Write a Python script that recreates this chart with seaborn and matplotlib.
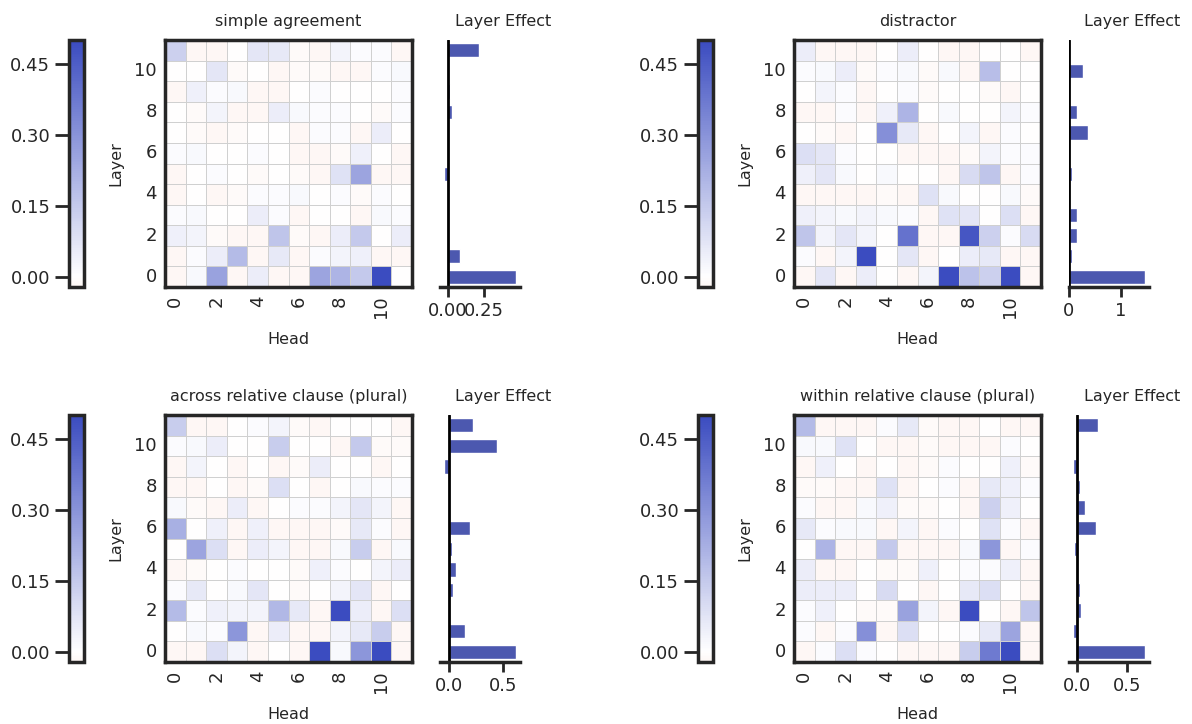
import numpy as np
import pandas as pd
import matplotlib
matplotlib.use('Agg')
import matplotlib.pyplot as plt
from matplotlib.colors import LinearSegmentedColormap
import seaborn as sns

# --- data: head effects, rows listed from layer 11 (top) down to layer 0 ---
titles = ['simple agreement', 'distractor',
          'across relative clause (plural)', 'within relative clause (plural)']
layers = list(range(12))
heads = list(range(12))

simple_agreement = [
    [0.13, -0.02, -0.02, 0, 0.07, 0.06, -0.01, -0.02, 0.03, 0.01, 0.01, -0.02],
    [0, 0, 0.07, -0.01, 0, -0.02, -0.01, -0.01, -0.02, -0.02, 0.01, 0.02],
    [-0.02, 0.04, 0.01, 0.02, -0.02, -0.03, 0, 0.01, 0, 0, 0, 0.01],
    [0, -0.01, 0.03, -0.02, -0.02, 0.05, 0.02, 0.01, 0.01, 0, -0.01, 0.01],
    [0, -0.01, -0.02, -0.01, 0, 0, -0.02, 0.01, 0.01, -0.02, 0.05, 0],
    [0.01, 0.02, 0, 0, 0.01, 0, -0.02, -0.02, -0.01, 0.04, 0, -0.02],
    [-0.02, 0, 0.01, 0, -0.01, 0, -0.01, -0.02, 0.08, 0.25, -0.02, -0.02],
    [-0.02, 0, -0.02, -0.01, 0.01, 0.01, 0.02, 0, 0.01, -0.01, 0.01, 0],
    [0.01, 0.02, 0, 0, 0.05, 0.01, -0.02, 0, 0, -0.02, 0.02, 0.01],
    [0.04, 0.03, -0.01, -0.02, -0.02, 0.16, -0.01, -0.02, 0.05, 0.15, 0, 0.05],
    [-0.02, 0.01, 0.05, 0.19, -0.02, 0.06, -0.02, 0.01, 0.03, 0.04, -0.02, -0.02],
    [-0.02, 0.02, 0.26, -0.02, 0.05, -0.02, -0.02, 0.25, 0.21, 0.15, 0.5, 0],
]
distractor = [
    [0.05, -0.02, -0.02, -0.02, 0, 0.05, 0, -0.02, -0.02, 0, 0, -0.02],
    [0.01, 0.02, 0.05, -0.01, 0.01, 0.02, -0.01, 0.02, -0.02, 0.18, 0, 0],
    [0, 0.03, 0.01, -0.02, 0, 0.01, -0.01, 0, 0, -0.01, -0.02, 0],
    [-0.02, -0.02, 0.01, -0.02, 0.04, 0.21, 0, 0.02, 0, 0, 0.03, 0.01],
    [0, -0.01, -0.02, 0, 0.31, 0.06, -0.02, 0, 0.03, -0.02, 0.01, 0],
    [0.09, 0.07, 0.01, 0, 0, -0.02, -0.02, -0.02, -0.01, 0.03, 0.01, 0.01],
    [0.04, 0.07, 0.02, 0, 0.02, 0, 0, -0.02, 0.1, 0.16, -0.02, 0.01],
    [-0.02, -0.02, -0.02, -0.02, -0.01, -0.02, 0.08, 0.02, 0, 0, 0.02, -0.01],
    [0.04, 0.03, 0.02, 0.03, 0.02, 0.01, -0.02, 0.08, 0.07, 0, 0.09, -0.02],
    [0.16, 0.03, 0.07, 0.03, 0, 0.39, -0.02, -0.02, 0.47, 0.13, 0.01, 0.1],
    [0.01, -0.02, 0.03, 0.5, 0, 0.07, -0.02, 0, 0.05, 0.06, -0.02, -0.02],
    [-0.02, 0.07, -0.02, 0.05, 0, -0.02, 0.03, 0.5, 0.17, 0.13, 0.5, -0.02],
]
across_rc = [
    [0.14, -0.02, -0.02, 0, 0.01, 0.03, -0.01, -0.02, 0, 0, 0, -0.02],
    [0.01, 0.02, 0.05, 0, 0, 0.14, 0, 0, -0.02, 0.15, -0.01, -0.01],
    [-0.02, 0.03, 0, -0.02, 0, -0.02, -0.01, 0.05, 0, 0, -0.02, 0],
    [-0.02, -0.02, 0, -0.02, -0.01, 0.09, 0, -0.02, 0, 0.02, 0.01, 0.01],
    [0.02, -0.01, -0.02, 0.05, -0.02, 0, 0.01, 0.01, 0.03, 0.07, 0.03, -0.02],
    [0.22, 0, 0.04, -0.02, 0.04, -0.02, -0.02, -0.02, -0.01, 0.06, 0.01, -0.02],
    [0, 0.25, 0.09, -0.02, 0.05, 0.03, -0.02, -0.02, 0.02, 0.14, -0.02, 0.02],
    [-0.02, -0.01, 0, 0.01, 0, 0, -0.01, 0.04, 0.01, 0, 0.03, 0.05],
    [0.01, 0.06, 0, 0.02, 0.07, 0, -0.01, 0, 0.03, 0.07, -0.02, 0],
    [0.19, 0.01, 0.04, 0.03, 0.03, 0.2, 0.06, -0.02, 0.5, 0.05, -0.02, 0.09],
    [0, 0.02, 0.01, 0.29, -0.02, 0.05, -0.02, -0.02, 0.03, 0.06, 0.14, -0.02],
    [-0.02, -0.02, 0.09, 0.03, -0.02, 0, -0.02, 0.5, 0.02, 0.29, 0.5, -0.02],
]
within_rc = [
    [0.19, -0.02, -0.02, -0.02, 0.01, 0.06, -0.01, -0.02, -0.02, 0, -0.02, -0.02],
    [0.02, 0.02, 0.08, 0, -0.02, -0.02, -0.01, -0.02, -0.02, -0.02, 0.01, 0],
    [-0.02, 0.04, 0, -0.02, 0, -0.02, -0.01, 0.01, 0, 0, 0.04, -0.01],
    [-0.01, -0.01, -0.02, -0.02, 0.08, -0.02, 0, 0.01, -0.02, 0.06, 0.04, 0.01],
    [0.01, -0.02, -0.02, 0.02, 0.04, -0.01, -0.01, 0, -0.02, 0.13, 0.04, 0],
    [0.06, 0.01, 0.02, 0.02, -0.02, 0.03, -0.02, 0.01, 0, 0.08, 0.01, -0.02],
    [0, 0.21, -0.02, -0.02, 0.15, -0.02, -0.02, -0.02, 0.02, 0.29, -0.02, 0.01],
    [0.05, -0.02, -0.02, 0, -0.01, -0.01, 0.04, 0, 0.01, 0.01, 0.04, -0.02],
    [0.05, 0.05, 0.05, 0, 0.1, 0, -0.02, 0, 0.06, 0.09, 0, -0.02],
    [0.01, 0.04, 0, -0.01, -0.01, 0.26, 0.03, -0.02, 0.5, 0, -0.02, 0.16],
    [0.01, -0.02, 0.01, 0.31, -0.02, 0.09, 0, 0, 0.01, 0.06, 0.25, -0.02],
    [-0.02, 0.01, 0.09, 0.01, 0, -0.02, -0.02, -0.02, 0.14, 0.37, 0.5, -0.02],
]

# layer effects, listed layer 0 .. layer 11
effect_simple = [0.48, 0.086, 0, 0, 0, -0.03, 0, 0, 0.03, 0.017, 0, 0.22]
effect_distractor = [1.46, 0.05, 0.16, 0.15, 0, 0.05, 0, 0.37, 0.15, 0, 0.26, 0]
effect_across = [0.62, 0.15, 0, 0.04, 0.065, 0.03, 0.19, 0, 0, -0.05, 0.44, 0.22]
effect_within = [0.68, -0.04, 0.042, 0.025, 0, -0.035, 0.19, 0.077, 0.025, -0.045, 0, 0.21]

head_data = [simple_agreement, distractor, across_rc, within_rc]
layer_data = [effect_simple, effect_distractor, effect_across, effect_within]
bar_ticks = [[0, 0.25], [0, 1], [0, 0.5], [0, 0.5]]

# --- style ---
sns.set_theme(style='ticks')
plt.rcParams['font.family'] = ['DejaVu Sans']
dark = '#262626'
cmap = LinearSegmentedColormap.from_list('rwb', ['#e0501e', '#ffffff', '#3b4cc0'])

W, H = 1192, 724
fig = plt.figure(figsize=(W / 100, H / 100), dpi=100)

def px(x, y_top, w, h):
    return [x / W, (H - y_top - h) / H, w / W, h / H]

col_off = [0, 629]
row_top = [40, 415]

for i in range(4):
    r, c = divmod(i, 2)
    dx, top = col_off[c], row_top[r]
    cax = fig.add_axes(px(69 + dx, top, 15, 247))
    hax = fig.add_axes(px(165 + dx, top, 247, 247))
    bax = fig.add_axes(px(440 + dx, top, 80, 247))

    mat = pd.DataFrame(np.array(head_data[i])[::-1], index=layers, columns=heads)
    sns.heatmap(mat, ax=hax, cbar_ax=cax, cmap=cmap, center=0, vmin=-0.022, vmax=0.5,
                linewidths=0.6, linecolor='#d0d0d0', xticklabels=2, yticklabels=2,
                cbar_kws={'ticks': [0, 0.15, 0.30, 0.45]})
    hax.invert_yaxis()
    for sp in hax.spines.values():
        sp.set_visible(True)
        sp.set_linewidth(2.5)
        sp.set_color(dark)
    hax.tick_params(length=0, labelsize=13, pad=6)
    hax.tick_params(axis='x', labelrotation=90)
    hax.tick_params(axis='y', labelrotation=0)
    hax.set_xlabel('Head', fontsize=11.5, labelpad=10)
    hax.set_ylabel('Layer', fontsize=11.5, labelpad=8)
    hax.set_title(titles[i], fontsize=11.5, pad=10)

    cb = hax.collections[0].colorbar
    cb.outline.set_linewidth(2.5)
    cb.outline.set_edgecolor(dark)
    cb.ax.yaxis.set_ticks_position('left')
    cb.ax.tick_params(length=10, width=2, labelsize=13, color=dark)

    order = layers[::-1]
    sns.barplot(x=layer_data[i], y=layers, order=order, orient='h',
                color='#3b4cc0', width=0.7, ax=bax)
    bax.axvline(0, color='black', lw=2)
    bax.set_xticks(bar_ticks[i])
    bax.set_yticks([])
    bax.set_xlabel('')
    bax.set_ylabel('')
    for s in ['left', 'top', 'right']:
        bax.spines[s].set_visible(False)
    bax.spines['bottom'].set_linewidth(2.5)
    bax.spines['bottom'].set_color(dark)
    bax.tick_params(axis='x', length=7, width=2, labelsize=13, color=dark)
    bax.set_title('Layer Effect', fontsize=11.5, pad=10, x=0.79)

fig.savefig('out.png', dpi=100)
